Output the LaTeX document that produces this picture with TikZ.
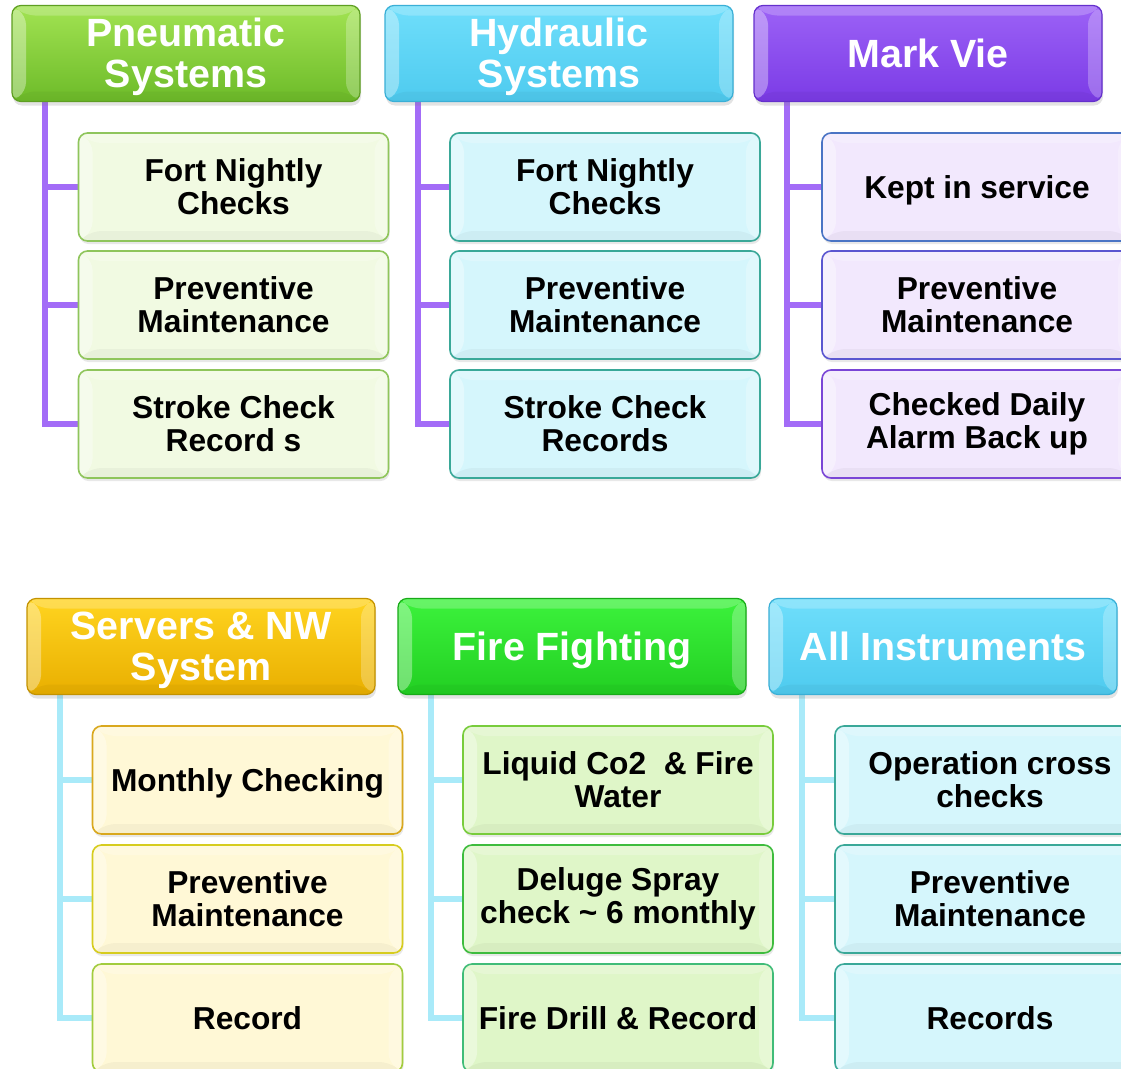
\documentclass[tikz,border=0pt]{standalone}
\usepackage{fontspec}
\setmainfont{Liberation Sans}
\usetikzlibrary{shadows,backgrounds}

% header colours
\definecolor{pneuTop}{HTML}{A2E352}
\definecolor{pneuBot}{HTML}{6DBB29}
\definecolor{pneuEdge}{HTML}{5E9E22}
\definecolor{hydTop}{HTML}{6FDEFB}
\definecolor{hydBot}{HTML}{4ECBEF}
\definecolor{hydEdge}{HTML}{3AAFD6}
\definecolor{markTop}{HTML}{9C62F6}
\definecolor{markBot}{HTML}{7B3BE6}
\definecolor{markEdge}{HTML}{6430CC}
\definecolor{servTop}{HTML}{FFD420}
\definecolor{servBot}{HTML}{E9AF00}
\definecolor{servEdge}{HTML}{C39200}
\definecolor{fireTop}{HTML}{3CF23C}
\definecolor{fireBot}{HTML}{22CF22}
\definecolor{fireEdge}{HTML}{18AA18}
% child fills
\definecolor{pneuFill}{HTML}{F1FAE2}
\definecolor{hydFill}{HTML}{D5F6FC}
\definecolor{markFill}{HTML}{F2E8FD}
\definecolor{servFill}{HTML}{FFF8D6}
\definecolor{fireFill}{HTML}{DFF6C8}
% child borders
\definecolor{pneuLine}{HTML}{8FC55C}
\definecolor{hydLine}{HTML}{3AA898}
\definecolor{markLineA}{HTML}{4A74C4}
\definecolor{markLineB}{HTML}{5A56D0}
\definecolor{markLineC}{HTML}{7A46D6}
\definecolor{servLineA}{HTML}{D9A81E}
\definecolor{servLineB}{HTML}{D6CC1E}
\definecolor{servLineC}{HTML}{A2CC3E}
\definecolor{fireLineA}{HTML}{78CC3C}
\definecolor{fireLineB}{HTML}{3EBC3E}
\definecolor{fireLineC}{HTML}{40BC78}
% connectors
\definecolor{violetLink}{HTML}{A36CF7}
\definecolor{cyanLink}{HTML}{A9EAF9}

% lower a (possibly multi-line) label inside its box without changing the box size
\newcommand\shiftdown[2]{\raisebox{-#1}[\height][\depth]{\begin{tabular}{@{}c@{}}#2\end{tabular}}}

\tikzset{
  bevel/.style={
    path picture={
      \path[fill=white,fill opacity=0.22]
        (path picture bounding box.north west) -- (path picture bounding box.north east)
        -- ([xshift=-#1pt,yshift=-10pt]path picture bounding box.north east)
        -- ([xshift=#1pt,yshift=-10pt]path picture bounding box.north west) -- cycle;
      \path[fill=white,fill opacity=0.35]
        (path picture bounding box.north west) -- ([xshift=#1pt,yshift=-10pt]path picture bounding box.north west)
        -- ([xshift=#1pt,yshift=10pt]path picture bounding box.south west)
        -- (path picture bounding box.south west) -- cycle;
      \path[fill=white,fill opacity=0.25]
        (path picture bounding box.north east) -- ([xshift=-#1pt,yshift=-10pt]path picture bounding box.north east)
        -- ([xshift=-#1pt,yshift=10pt]path picture bounding box.south east)
        -- (path picture bounding box.south east) -- cycle;
      \path[fill=black,fill opacity=0.035]
        (path picture bounding box.south west) -- (path picture bounding box.south east)
        -- ([xshift=-#1pt,yshift=10pt]path picture bounding box.south east)
        -- ([xshift=#1pt,yshift=10pt]path picture bounding box.south west) -- cycle;
    }},
  header/.style n args={3}{
    rounded corners=9pt, minimum width=348pt, minimum height=96pt, inner sep=0pt,
    top color=#1, bottom color=#2, draw=#3, line width=1.2pt,
    drop shadow={opacity=0.22, shadow xshift=1pt, shadow yshift=-4pt},
    bevel=14, text=white, align=center,
    font=\bfseries\fontsize{39.4}{41}\selectfont},
  item/.style 2 args={
    rounded corners=9pt, minimum width=310pt, minimum height=108pt, inner sep=0pt,
    fill=#1, draw=#2, line width=1.6pt,
    drop shadow={opacity=0.18, shadow xshift=1pt, shadow yshift=-3pt},
    bevel=14, text=black, align=center,
    font=\bfseries\fontsize{31.7}{33}\selectfont},
  violet/.style={draw=violetLink, line width=6pt},
  cyanlink/.style={draw=cyanLink, line width=6pt},
}

\begin{document}
\begin{tikzpicture}[x=1pt,y=-1pt]
\useasboundingbox (0,0) rectangle (1121,1068);
\clip (0,0) rectangle (1121,1068);

% ---------- upper group ----------
\node[header={pneuTop}{pneuBot}{pneuEdge}] (pn) at (186,53.5) {\shiftdown{5pt}{Pneumatic\\Systems}};
\node[header={hydTop}{hydBot}{hydEdge}] (hy) at (559,53.5) {\shiftdown{5pt}{Hydraulic\\Systems}};
\node[header={markTop}{markBot}{markEdge}] (mv) at (928,53.5) {Mark Vie};

\node[item={pneuFill}{pneuLine}] (pn1) at (233.5,187) {Fort Nightly\\Checks};
\node[item={pneuFill}{pneuLine}] (pn2) at (233.5,305) {Preventive\\Maintenance};
\node[item={pneuFill}{pneuLine}] (pn3) at (233.5,424) {Stroke Check\\Record s};

\node[item={hydFill}{hydLine}] (hy1) at (605,187) {Fort Nightly\\Checks};
\node[item={hydFill}{hydLine}] (hy2) at (605,305) {Preventive\\Maintenance};
\node[item={hydFill}{hydLine}] (hy3) at (605,424) {Stroke Check\\Records};

\node[item={markFill}{markLineA}] (mv1) at (977,187) {\shiftdown{5pt}{Kept in service}};
\node[item={markFill}{markLineB}] (mv2) at (977,305) {Preventive\\Maintenance};
\node[item={markFill}{markLineC}] (mv3) at (977,424) {Checked Daily\\Alarm Back up};

% ---------- lower group ----------
\node[header={servTop}{servBot}{servEdge}] (sv) at (201,646.5) {\shiftdown{5pt}{Servers \& NW\\System}};
\node[header={fireTop}{fireBot}{fireEdge}] (ff) at (572,646.5) {\shiftdown{6pt}{Fire Fighting}};
\node[header={hydTop}{hydBot}{hydEdge}] (ai) at (943,646.5) {All Instruments};

\node[item={servFill}{servLineA}] (sv1) at (247.5,780) {\shiftdown{5pt}{Monthly Checking}};
\node[item={servFill}{servLineB}] (sv2) at (247.5,899) {Preventive\\Maintenance};
\node[item={servFill}{servLineC}] (sv3) at (247.5,1018) {Record};

\node[item={fireFill}{fireLineA}] (ff1) at (618,780) {Liquid Co2 \ \& Fire\\Water};
\node[item={fireFill}{fireLineB}] (ff2) at (618,899) {Deluge Spray\\check \textasciitilde\ 6 monthly};
\node[item={fireFill}{fireLineC}] (ff3) at (618,1018) {Fire Drill \& Record};

\node[item={hydFill}{hydLine}] (ai1) at (990,780) {Operation cross\\checks};
\node[item={hydFill}{hydLine}] (ai2) at (990,899) {Preventive\\Maintenance};
\node[item={hydFill}{hydLine}] (ai3) at (990,1018) {Records};

% ---------- page fill and connectors, behind the boxes ----------
\begin{pgfonlayer}{background}
  \fill[white] (0,0) rectangle (1121,1068);
  \foreach \h in {pn, hy, mv} {
    \foreach \i in {1,2,3}
      \draw[violet] ([xshift=34pt]\h.south west) |- (\h\i.west);
  }
  \foreach \h in {sv, ff, ai} {
    \foreach \i in {1,2,3}
      \draw[cyanlink] ([xshift=34pt]\h.south west) |- (\h\i.west);
  }
\end{pgfonlayer}
\end{tikzpicture}
\end{document}
